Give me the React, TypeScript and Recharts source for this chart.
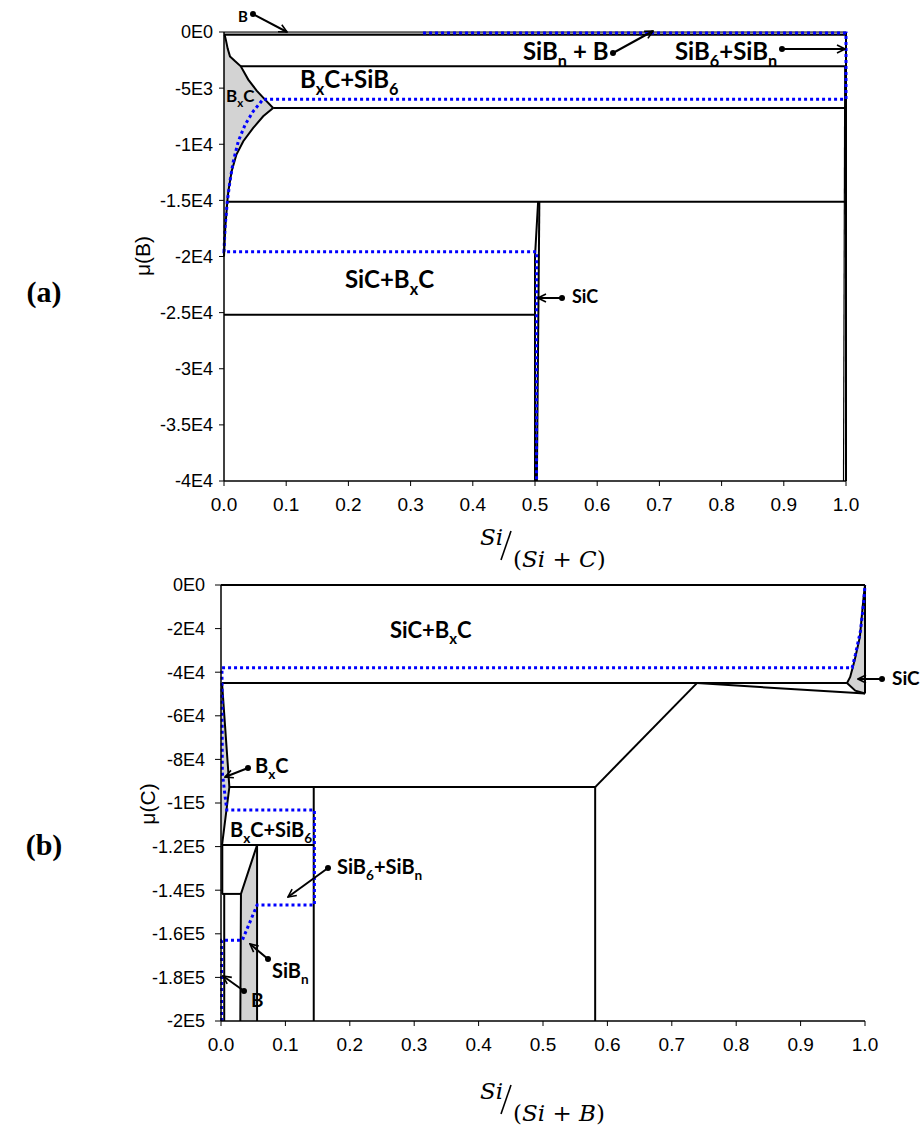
import { ComposedChart, Line, Area, XAxis, YAxis } from 'recharts';

// ---------- axes ----------
const xTicks = [0, 0.1, 0.2, 0.3, 0.4, 0.5, 0.6, 0.7, 0.8, 0.9, 1.0];
const yTicksA = [0, -5000, -10000, -15000, -20000, -25000, -30000, -35000, -40000];
const yLabelsA = ['0E0', '-5E3', '-1E4', '-1.5E4', '-2E4', '-2.5E4', '-3E4', '-3.5E4', '-4E4'];
const yTicksB = [0, -20000, -40000, -60000, -80000, -100000, -120000, -140000, -160000, -180000, -200000];
const yLabelsB = ['0E0', '-2E4', '-4E4', '-6E4', '-8E4', '-1E5', '-1.2E5', '-1.4E5', '-1.6E5', '-1.8E5', '-2E5'];

type P = { x: number; y: number };
type R = { x: number; r: [number, number] };

// ---------- panel (a): mu(B) vs Si/(Si+C) ----------
const bandA: R[] = [{ x: 0, r: [-240, 0] }, { x: 1, r: [-240, 0] }];
const bxcFillA: R[] = [
  { x: 0, r: [-19500, -240] },
  { x: 0.003, r: [-15600, -700] },
  { x: 0.0054, r: [-15070, -1500] },
  { x: 0.0096, r: [-13100, -2170] },
  { x: 0.018, r: [-11200, -2610] },
  { x: 0.027, r: [-10100, -3060] },
  { x: 0.039, r: [-9100, -4240] },
  { x: 0.0525, r: [-8150, -5220] },
  { x: 0.066, r: [-7350, -6020] },
  { x: 0.079, r: [-6770, -6770] },
];
const bxcUpperA: P[] = [
  { x: 0.001, y: -240 }, { x: 0.003, y: -700 }, { x: 0.006, y: -1500 }, { x: 0.0096, y: -2170 },
  { x: 0.018, y: -2610 }, { x: 0.027, y: -3060 }, { x: 0.039, y: -4240 }, { x: 0.0525, y: -5220 },
  { x: 0.066, y: -6020 }, { x: 0.079, y: -6770 },
];
const bxcLowerA: P[] = [
  { x: 0.079, y: -6770 }, { x: 0.063, y: -7510 }, { x: 0.047, y: -8550 }, { x: 0.031, y: -9730 },
  { x: 0.02, y: -10920 }, { x: 0.0123, y: -12400 }, { x: 0.007, y: -14180 }, { x: 0.0054, y: -15070 },
  { x: 0.002, y: -17500 }, { x: 0, y: -20000 },
];
const linesA: P[][] = [
  [{ x: 0, y: -240 }, { x: 1, y: -240 }],
  [{ x: 1, y: 0 }, { x: 1, y: -40000 }],
  [{ x: 0.027, y: -3060 }, { x: 1, y: -3060 }],
  [{ x: 0.079, y: -6770 }, { x: 1, y: -6770 }],
  [{ x: 0.0054, y: -15120 }, { x: 1, y: -15120 }],
  [{ x: 0, y: -25180 }, { x: 0.5, y: -25180 }],
  [{ x: 0.505, y: -15120 }, { x: 0.5, y: -20000 }, { x: 0.5, y: -40000 }],
  [{ x: 0.507, y: -15120 }, { x: 0.503, y: -40000 }],
  bxcUpperA,
  bxcLowerA,
];
const thinA: P[][] = [
  [{ x: 0, y: 0 }, { x: 1, y: 0 }],
  [{ x: 0.998, y: -3060 }, { x: 0.996, y: -40000 }],
];
const blueA: P[] = [
  { x: 0.32, y: -90 }, { x: 1, y: -90 }, { x: 1, y: -5980 }, { x: 0.063, y: -5980 },
  { x: 0.058, y: -6320 }, { x: 0.047, y: -7060 }, { x: 0.034, y: -8250 }, { x: 0.023, y: -9730 },
  { x: 0.015, y: -11510 }, { x: 0.0096, y: -13290 }, { x: 0.0054, y: -15070 }, { x: 0.0016, y: -17450 },
  { x: 0, y: -19580 }, { x: 0.5025, y: -19580 }, { x: 0.5025, y: -40000 },
];

// ---------- panel (b): mu(C) vs Si/(Si+B) ----------
const sicFillB: R[] = [
  { x: 0.972, r: [-45000, -45000] },
  { x: 0.977, r: [-46400, -42200] },
  { x: 0.984, r: [-48300, -34400] },
  { x: 0.992, r: [-49000, -23900] },
  { x: 0.998, r: [-49600, -5000] },
  { x: 1, r: [-49800, 0] },
];
const bxcFillB: R[] = [
  { x: 0, r: [-119300, -45000] },
  { x: 0.0016, r: [-119300, -45000] },
  { x: 0.013, r: [-92700, -92700] },
];
const sibnFillB: R[] = [
  { x: 0.03, r: [-200000, -141700] },
  { x: 0.031, r: [-200000, -141700] },
  { x: 0.056, r: [-200000, -119300] },
];
const linesB: P[][] = [
  [{ x: 0, y: 0 }, { x: 1, y: 0 }],
  [{ x: 1, y: 0 }, { x: 1, y: -49800 }],
  [{ x: 1, y: 0 }, { x: 0.998, y: -5000 }, { x: 0.992, y: -23900 }, { x: 0.984, y: -34400 }, { x: 0.977, y: -42200 }, { x: 0.972, y: -45000 }],
  [{ x: 0.972, y: -45000 }, { x: 0.985, y: -48500 }, { x: 1, y: -49800 }],
  [{ x: 0.0016, y: -45000 }, { x: 0.972, y: -45000 }],
  [{ x: 0.739, y: -45000 }, { x: 1, y: -49800 }],
  [{ x: 0.581, y: -92700 }, { x: 0.739, y: -45000 }],
  [{ x: 0.013, y: -92700 }, { x: 0.581, y: -92700 }],
  [{ x: 0.581, y: -92700 }, { x: 0.581, y: -200000 }],
  [{ x: 0.144, y: -92700 }, { x: 0.144, y: -200000 }],
  [{ x: 0.0016, y: -45000 }, { x: 0.013, y: -92700 }, { x: 0.0016, y: -119300 }],
  [{ x: 0.0016, y: -119300 }, { x: 0.144, y: -119300 }],
  [{ x: 0.03, y: -200000 }, { x: 0.031, y: -141700 }, { x: 0.056, y: -119300 }],
  [{ x: 0.056, y: -119300 }, { x: 0.056, y: -200000 }],
  [{ x: 0.0016, y: -141700 }, { x: 0.031, y: -141700 }],
  [{ x: 0.005, y: -141700 }, { x: 0.005, y: -200000 }],
  [{ x: 0.002, y: -119300 }, { x: 0.002, y: -141700 }],
];
const blueB: P[] = [
  { x: 0.001, y: -200000 }, { x: 0.001, y: -163000 }, { x: 0.033, y: -163000 }, { x: 0.056, y: -146800 },
  { x: 0.145, y: -146800 }, { x: 0.145, y: -103200 }, { x: 0.009, y: -103200 }, { x: 0.006, y: -96000 },
  { x: 0.002, y: -86000 }, { x: 0.0015, y: -38000 }, { x: 0.98, y: -38000 }, { x: 0.985, y: -32000 },
  { x: 0.993, y: -21000 }, { x: 0.998, y: -8000 }, { x: 1, y: 0 },
];

const GREY = '#d3d3d3';
const BLUE = '#0000ff';
const tickFont = { fill: '#000', fontSize: 18, fontFamily: 'Liberation Sans, Arial, sans-serif' };

function blackLine(d: P[], i: number, w = 2) {
  return (
    <Line key={`k${w}-${i}`} data={d} dataKey="y" type="linear" stroke="#000" strokeWidth={w}
      dot={false} activeDot={false} isAnimationActive={false} />
  );
}

function greyArea(d: R[], key: string, fill = GREY) {
  return (
    <Area key={key} data={d} dataKey="r" type="linear" stroke="none" fill={fill} fillOpacity={1}
      isAnimationActive={false} />
  );
}

function blueLine(d: P[]) {
  return (
    <Line data={d} dataKey="y" type="linear" stroke={BLUE} strokeWidth={3} strokeDasharray="3 3"
      dot={false} activeDot={false} isAnimationActive={false} />
  );
}

// chemical formula label, parts flagged true are subscripts
type Part = [string, boolean?];
function Chem({ x, y, size, parts }: { x: number; y: number; size: number; parts: Part[] }) {
  let shift = 0;
  return (
    <text x={x} y={y} fontSize={size} fontFamily="Lato, sans-serif" fontWeight="bold" fill="#000">
      {parts.map(([t, sub], i) => {
        const target = sub ? size * 0.28 : 0;
        const dy = target - shift;
        shift = target;
        return (
          <tspan key={i} dy={dy} fontSize={sub ? size * 0.68 : size}>{t}</tspan>
        );
      })}
    </text>
  );
}

function Arrow({ x1, y1, x2, y2 }: { x1: number; y1: number; x2: number; y2: number }) {
  return (
    <g>
      <line x1={x1} y1={y1} x2={x2} y2={y2} stroke="#000" strokeWidth={2} markerEnd="url(#openHead)" />
      <circle cx={x1} cy={y1} r={3} fill="#000" />
    </g>
  );
}

function MathTitle({ x, y, last }: { x: number; y: number; last: string }) {
  const f = 'DejaVu Serif, Liberation Serif, serif';
  return (
    <g fontFamily={f} fill="#000">
      <text x={x} y={y} fontSize={23} fontStyle="italic">Si</text>
      <line x1={x + 31} y1={y - 14} x2={x + 21} y2={y + 15} stroke="#000" strokeWidth={1.6} />
      <text x={x + 33} y={y + 22} fontSize={23}>
        (<tspan fontStyle="italic">Si</tspan> + <tspan fontStyle="italic">{last}</tspan>)
      </text>
    </g>
  );
}

export default function App() {
  return (
    <div style={{ position: 'absolute', left: 0, top: 0, width: 920, height: 1133, background: '#fff' }}>
      {/* panel (a) */}
      <div style={{ position: 'absolute', left: 0, top: 0 }}>
        <ComposedChart width={920} height={540} margin={{ top: 32, right: 74, bottom: 19, left: 144 }}>
          <XAxis type="number" dataKey="x" domain={[0, 1]} ticks={xTicks} interval={0}
            tickFormatter={(v: number) => v.toFixed(1)} tick={{ ...tickFont, fontSize: 19 }}
            axisLine={{ stroke: '#000', strokeWidth: 1.5 }} tickLine={{ stroke: '#000' }}
            tickSize={5} tickMargin={12} height={40} />
          <YAxis type="number" domain={[-40000, 0]} ticks={yTicksA} interval={0}
            tickFormatter={(v: number) => yLabelsA[yTicksA.indexOf(v)] ?? String(v)} tick={tickFont}
            axisLine={{ stroke: '#000', strokeWidth: 1.5 }} tickLine={{ stroke: '#000' }}
            tickSize={5} tickMargin={6} width={80} />
          {greyArea(bandA, 'band', '#c4c4c4')}
          {greyArea(bxcFillA, 'bxc')}
          {thinA.map((d, i) => blackLine(d, i, 1.2))}
          {linesA.map((d, i) => blackLine(d, i, 2))}
          {blueLine(blueA)}
        </ComposedChart>
      </div>

      {/* panel (b) */}
      <div style={{ position: 'absolute', left: 0, top: 553 }}>
        <ComposedChart width={920} height={540} margin={{ top: 32, right: 55, bottom: 32, left: 141 }}>
          <XAxis type="number" dataKey="x" domain={[0, 1]} ticks={xTicks} interval={0}
            tickFormatter={(v: number) => v.toFixed(1)} tick={{ ...tickFont, fontSize: 19 }}
            axisLine={{ stroke: '#000', strokeWidth: 1.5 }} tickLine={{ stroke: '#000' }}
            tickSize={5} tickMargin={12} height={40} />
          <YAxis type="number" domain={[-200000, 0]} ticks={yTicksB} interval={0}
            tickFormatter={(v: number) => yLabelsB[yTicksB.indexOf(v)] ?? String(v)} tick={tickFont}
            axisLine={{ stroke: '#000', strokeWidth: 1.5 }} tickLine={{ stroke: '#000' }}
            tickSize={6} tickMargin={10} width={80} />
          {greyArea(sicFillB, 'sic')}
          {greyArea(bxcFillB, 'bxcb')}
          {greyArea(sibnFillB, 'sibn')}
          {linesB.map((d, i) => blackLine(d, i, 2))}
          {blueLine(blueB)}
        </ComposedChart>
      </div>

      {/* annotations */}
      <svg width={920} height={1133} style={{ position: 'absolute', left: 0, top: 0, pointerEvents: 'none' }}>
        <defs>
          <marker id="openHead" viewBox="0 0 10 10" refX="9" refY="5" markerWidth="5" markerHeight="5" orient="auto">
            <path d="M1,1 L9,5 L1,9" fill="none" stroke="#000" strokeWidth={1.6} />
          </marker>
        </defs>

        <text x={44} y={302} fontSize={30} fontWeight="bold" fontFamily="Liberation Serif, serif" textAnchor="middle">(a)</text>
        <text x={44} y={855} fontSize={30} fontWeight="bold" fontFamily="Liberation Serif, serif" textAnchor="middle">(b)</text>
        <text transform="translate(150,256) rotate(-90)" fontSize={21} fontFamily="Liberation Sans, Arial, sans-serif" textAnchor="middle">μ(B)</text>
        <text transform="translate(155,804) rotate(-90)" fontSize={21} fontFamily="Liberation Sans, Arial, sans-serif" textAnchor="middle">μ(C)</text>

        <MathTitle x={480} y={545} last="C" />
        <MathTitle x={480} y={1099} last="B" />

        {/* panel (a) labels */}
        <Chem x={238} y={22} size={15} parts={[['B']]} />
        <Arrow x1={253} y1={14} x2={287} y2={32} />
        <Chem x={523} y={60} size={24} parts={[['SiB'], ['n', true], [' + B']]} />
        <Arrow x1={613} y1={53} x2={653} y2={31} />
        <Chem x={675} y={60} size={24} parts={[['SiB'], ['6', true], ['+SiB'], ['n', true]]} />
        <Arrow x1={782} y1={49} x2={845} y2={49} />
        <Chem x={300} y={88} size={24} parts={[['B'], ['x', true], ['C+SiB'], ['6', true]]} />
        <Chem x={226} y={102} size={17} parts={[['B'], ['x', true], ['C']]} />
        <Chem x={345} y={288} size={24} parts={[['SiC+B'], ['x', true], ['C']]} />
        <Chem x={572} y={303} size={18} parts={[['SiC']]} />
        <Arrow x1={562} y1={298} x2={538} y2={298} />

        {/* panel (b) labels */}
        <Chem x={390} y={638} size={22} parts={[['SiC+B'], ['x', true], ['C']]} />
        <Chem x={892} y={685} size={19} parts={[['SiC']]} />
        <Arrow x1={882} y1={679} x2={858} y2={679} />
        <Chem x={255} y={773} size={20} parts={[['B'], ['x', true], ['C']]} />
        <Arrow x1={248} y1={768} x2={225} y2={777} />
        <Chem x={230} y={837} size={20} parts={[['B'], ['x', true], ['C+SiB'], ['6', true]]} />
        <Chem x={337} y={874} size={20} parts={[['SiB'], ['6', true], ['+SiB'], ['n', true]]} />
        <Arrow x1={328} y1={868} x2={288} y2={897} />
        <Chem x={272} y={978} size={20} parts={[['SiB'], ['n', true]]} />
        <Arrow x1={268} y1={959} x2={250} y2={944} />
        <Chem x={251} y={1007} size={19} parts={[['B']]} />
        <Arrow x1={244} y1={991} x2={223} y2={976} />
      </svg>
    </div>
  );
}
